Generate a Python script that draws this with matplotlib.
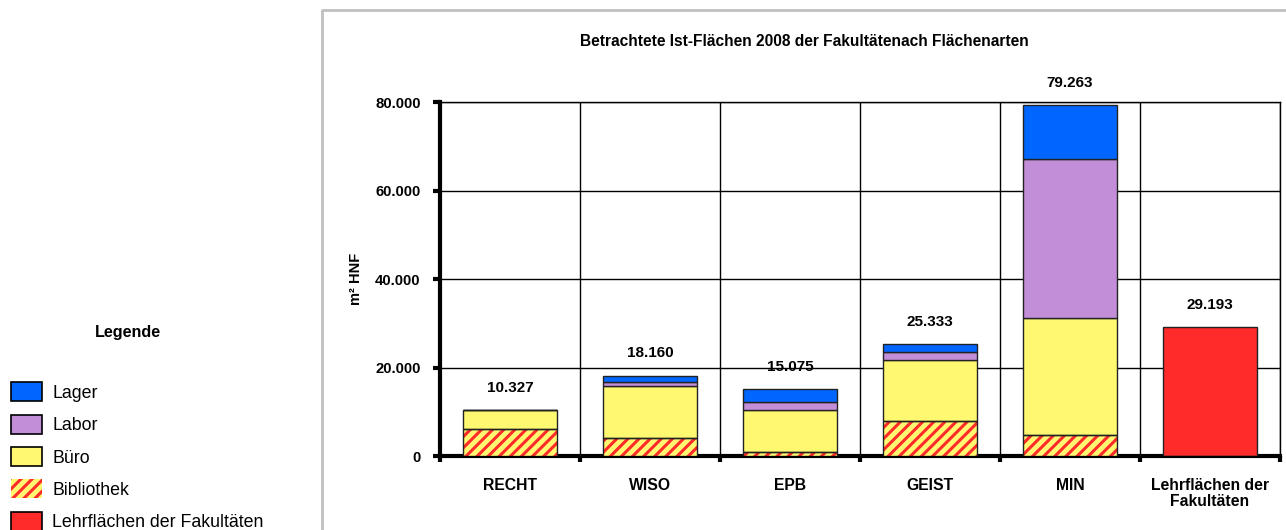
import matplotlib.pyplot as plt
from matplotlib.patches import Patch
from matplotlib.lines import Line2D
from matplotlib.ticker import FuncFormatter
import numpy as np

plt.rcParams['font.family'] = ['Liberation Sans', 'DejaVu Sans']
plt.rcParams['hatch.linewidth'] = 2.2

faculties = ["RECHT", "WISO", "EPB", "GEIST", "MIN", "Lehrflächen der\nFakultäten"]
bibliothek = [6030, 4000, 900, 7840, 4680, 0]
buero = [4297, 11820, 9430, 13930, 26440, 0]
labor = [0, 830, 1810, 1730, 35930, 0]
lager = [0, 1510, 2935, 1833, 12213, 0]
lehrflaechen = [0, 0, 0, 0, 0, 29193]
totals = [10327, 18160, 15075, 25333, 79263, 29193]

c_lager = "#0066ff"
c_labor = "#c38ed8"
c_buero = "#fff870"
c_red = "#ff2a2a"
edge = "#222222"

fig = plt.figure(figsize=(12.86, 5.30), dpi=100)
ax = fig.add_axes([440/1286, 1-456/530, 840/1286, 354/530])

x = np.arange(len(faculties))
w = 0.67

# Bibliothek: yellow with red diagonal stripes
ax.bar(x, bibliothek, w, color=c_buero, edgecolor=c_red, hatch="///", linewidth=0, zorder=3)
ax.bar(x, bibliothek, w, fill=False, edgecolor=edge, linewidth=1, zorder=4)
bottom = np.array(bibliothek, dtype=float)
for vals, col in [(buero, c_buero), (labor, c_labor), (lager, c_lager)]:
    ax.bar(x, vals, w, bottom=bottom, color=col, edgecolor=edge, linewidth=1, zorder=3)
    bottom += np.array(vals)
ax.bar(x[-1], lehrflaechen[-1], w, color=c_red, edgecolor=edge, linewidth=1, zorder=3)

for xi, t in zip(x, totals):
    ax.annotate(f"{t:,}".replace(",", "."), (xi, t), xytext=(0, 16), textcoords="offset points",
                ha="center", va="center", fontsize=11, fontweight="bold")

ax.set_xlim(-0.5, len(faculties) - 0.5)
ax.set_ylim(0, 80000)
ax.set_yticks(np.arange(0, 80001, 20000))
ax.yaxis.set_major_formatter(FuncFormatter(lambda v, p: f"{int(v):,}".replace(",", ".")))
ax.set_xticks(np.arange(-0.5, len(faculties)))
ax.set_xticklabels([])
ax.set_xticks(x, minor=True)
ax.set_xticklabels(faculties, minor=True, fontsize=11.3, fontweight="bold", linespacing=1.05)
ax.tick_params(axis="x", which="minor", length=0, pad=16)
ax.tick_params(axis="x", which="major", length=4, width=3, direction="out")
ax.tick_params(axis="y", length=5, width=3, direction="out", pad=9)
for lab in ax.get_yticklabels():
    lab.set_fontweight("bold")
    lab.set_fontsize(10.7)

ax.grid(True, which="major", color="black", linewidth=1, zorder=0)
ax.set_axisbelow(True)
for s in ["top", "right"]:
    ax.spines[s].set_linewidth(1)
for s in ["left", "bottom"]:
    ax.spines[s].set_linewidth(3)

ax.set_ylabel("m² HNF", fontsize=10.5, fontweight="bold", labelpad=9)

fig.text(804/1286, 1-42/530, "Betrachtete Ist-Flächen 2008 der Fakultätenach Flächenarten",
         ha="center", va="center", fontsize=11.2, fontweight="bold")

# grey frame around chart area
fig.add_artist(Line2D([322/1286, 322/1286, 1], [0, 1-10/530, 1-10/530],
                      transform=fig.transFigure, color="#c0c0c0", linewidth=2))

fig.text(128/1286, 1-333/530, "Legende", ha="center", va="center", fontsize=11.6, fontweight="bold")
handles = [
    Patch(facecolor=c_lager, edgecolor="black", linewidth=1.2, label="Lager"),
    Patch(facecolor=c_labor, edgecolor="black", linewidth=1.2, label="Labor"),
    Patch(facecolor=c_buero, edgecolor="black", linewidth=1.2, label="Büro"),
    Patch(facecolor=c_buero, edgecolor=c_red, hatch="///", linewidth=0, label="Bibliothek"),
    Patch(facecolor=c_red, edgecolor="black", linewidth=1.2, label="Lehrflächen der Fakultäten"),
]
fig.legend(handles=handles, loc="upper left", bbox_to_anchor=(6/1286, 1-377/530), frameon=False,
           fontsize=12.8, handlelength=1.75, handleheight=1.28, labelspacing=0.72,
           handletextpad=0.55, borderaxespad=0, borderpad=0.3)

fig.savefig("out.png", dpi=100)
